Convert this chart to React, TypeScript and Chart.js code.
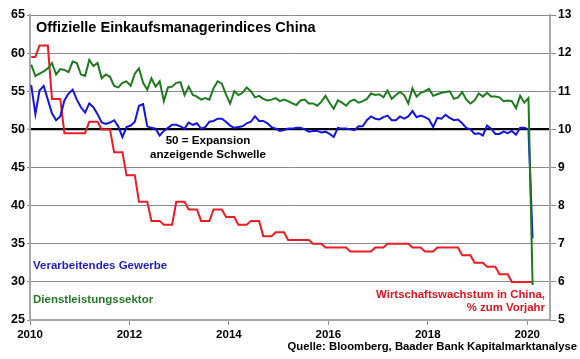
import React, { useEffect, useRef } from "react";
import { Chart, registerables } from "chart.js";

Chart.register(...registerables);

// Monthly data, Jan 2010 .. Feb 2020 (index 0 = Jan 2010)
const START_YEAR = 2010;
const xTickYears = [2010, 2012, 2014, 2016, 2018, 2020];

// Official manufacturing PMI (left axis)
const manufacturing = [
  55.8, 52.0, 55.1, 55.7, 53.9, 52.1, 51.2, 51.7, 53.8, 54.7, 55.2, 53.9,
  52.9, 52.2, 53.4, 52.9, 52.0, 50.9, 50.7, 50.9, 51.2, 50.4, 49.0, 50.3,
  50.5, 51.0, 53.1, 53.3, 50.4, 50.2, 50.1, 49.2, 49.8, 50.2, 50.6, 50.6,
  50.4, 50.1, 50.9, 50.6, 50.8, 50.1, 50.3, 51.0, 51.1, 51.4, 51.4, 51.0,
  50.5, 50.2, 50.3, 50.4, 50.8, 51.0, 51.7, 51.1, 51.1, 50.8, 50.3, 50.1,
  49.8, 49.9, 50.1, 50.1, 50.2, 50.2, 50.0, 49.7, 49.8, 49.8, 49.6, 49.7,
  49.4, 49.0, 50.2, 50.1, 50.1, 50.0, 49.9, 50.4, 50.4, 51.2, 51.7, 51.4,
  51.3, 51.6, 51.8, 51.2, 51.2, 51.7, 51.4, 51.7, 52.4, 51.6, 51.8, 51.6,
  51.3, 50.3, 51.5, 51.4, 51.9, 51.5, 51.2, 51.3, 50.8, 50.2, 50.0, 49.4,
  49.5, 49.2, 50.5, 50.1, 49.4, 49.4, 49.7, 49.5, 49.8, 49.3, 50.2, 50.2,
  50.0, 35.7,
];

// Official non-manufacturing (services) PMI (left axis)
const services = [
  58.5, 57.0, 57.3, 57.6, 58.0, 58.7, 57.2, 57.9, 57.8, 57.5, 58.9, 58.7,
  57.2, 57.0, 59.1, 58.3, 58.7, 56.7, 57.2, 56.9, 55.7, 55.5, 56.1, 56.3,
  55.7, 57.3, 58.0, 56.1, 55.2, 56.7, 55.6, 56.3, 53.7, 55.5, 55.6, 56.1,
  56.2, 54.5, 55.6, 54.5, 54.3, 53.9, 54.1, 53.9, 55.4, 56.3, 56.0, 54.6,
  53.4, 55.0, 54.5, 54.8, 55.5, 55.0, 54.2, 54.4, 54.0, 53.8, 53.9, 54.1,
  53.7, 53.9, 53.7, 53.4, 53.2, 53.8, 53.9, 53.4, 53.4, 53.1, 53.6, 54.4,
  53.5, 52.7, 53.8, 53.5, 53.1, 53.7, 53.9, 53.5, 53.7, 54.0, 54.7, 54.5,
  54.6, 54.2, 55.1, 54.0, 54.5, 54.9, 54.5, 53.4, 55.4, 54.3, 54.8, 55.0,
  55.3, 54.4, 54.6, 54.8, 54.9, 55.0, 54.0, 54.2, 54.9, 53.9, 53.4, 53.8,
  54.7, 54.3, 54.8, 54.3, 54.3, 54.2, 53.7, 53.8, 53.7, 52.8, 54.4, 53.5,
  54.1, 29.6,
];

// Real GDP growth, % y/y (right axis), quarterly values held per month
const gdpGrowth = [
  11.9, 11.9, 12.2, 12.2, 12.2, 10.8, 10.8, 10.8, 9.9, 9.9, 9.9, 9.9,
  9.9, 9.9, 10.2, 10.2, 10.2, 10.0, 10.0, 10.0, 9.4, 9.4, 9.4, 8.8,
  8.8, 8.8, 8.1, 8.1, 8.1, 7.6, 7.6, 7.6, 7.5, 7.5, 7.5, 8.1,
  8.1, 8.1, 7.9, 7.9, 7.9, 7.6, 7.6, 7.6, 7.9, 7.9, 7.9, 7.7,
  7.7, 7.7, 7.5, 7.5, 7.5, 7.6, 7.6, 7.6, 7.2, 7.2, 7.2, 7.3,
  7.3, 7.3, 7.1, 7.1, 7.1, 7.1, 7.1, 7.1, 7.0, 7.0, 7.0, 6.9,
  6.9, 6.9, 6.9, 6.9, 6.9, 6.8, 6.8, 6.8, 6.8, 6.8, 6.8, 6.9,
  6.9, 6.9, 7.0, 7.0, 7.0, 7.0, 7.0, 7.0, 6.9, 6.9, 6.9, 6.8,
  6.8, 6.8, 6.9, 6.9, 6.9, 6.9, 6.9, 6.9, 6.7, 6.7, 6.7, 6.5,
  6.5, 6.5, 6.4, 6.4, 6.4, 6.2, 6.2, 6.2, 6.0, 6.0, 6.0, 6.0,
  6.0, 6.0,
];

const FONT = '"Liberation Sans", Arial, Helvetica, sans-serif';

const toPoints = (arr: number[]) => arr.map((v, i) => ({ x: i + 0.3, y: v }));

type Label = {
  text: string;
  x: number;
  y: number;
  align: "left" | "right" | "center";
  color: string;
  size: number;
};

const labels: Label[] = [
  { text: "Offizielle Einkaufsmanagerindices China", x: 36, y: 27, align: "left", color: "#000", size: 14.5 },
  { text: "50 = Expansion", x: 208, y: 140, align: "center", color: "#000", size: 11.6 },
  { text: "anzeigende Schwelle", x: 208, y: 153.5, align: "center", color: "#000", size: 11.6 },
  { text: "Verarbeitendes Gewerbe", x: 33, y: 266, align: "left", color: "#1c1cc8", size: 11.5 },
  { text: "Dienstleistungssektor", x: 33, y: 300, align: "left", color: "#247a24", size: 11.5 },
  { text: "Wirtschaftswachstum in China,", x: 545, y: 295, align: "right", color: "#e3141c", size: 11.4 },
  { text: "% zum Vorjahr", x: 545, y: 307.5, align: "right", color: "#e3141c", size: 11.4 },
  { text: "Quelle: Bloomberg, Baader Bank Kapitalmarktanalyse", x: 577, y: 347, align: "right", color: "#000", size: 11.3 },
];

export default function App() {
  const canvasRef = useRef<HTMLCanvasElement | null>(null);

  useEffect(() => {
    const canvas = canvasRef.current;
    if (!canvas) return;
    const chart = new Chart(canvas, {
      type: "line",
      data: {
        datasets: [
          {
            label: "Dienstleistungssektor",
            data: toPoints(services),
            borderColor: "#1e7b1e",
            borderWidth: 2,
            pointRadius: 0,
            yAxisID: "y",
            order: 1,
          },
          {
            label: "Verarbeitendes Gewerbe",
            data: toPoints(manufacturing),
            borderColor: "#1515e0",
            borderWidth: 2,
            pointRadius: 0,
            yAxisID: "y",
            order: 2,
          },
          {
            label: "Wirtschaftswachstum",
            data: toPoints(gdpGrowth),
            borderColor: "#ec1c24",
            borderWidth: 2,
            pointRadius: 0,
            yAxisID: "y2",
            order: 3,
          },
        ],
      },
      options: {
        animation: false,
        responsive: false,
        devicePixelRatio: 1,
        layout: { padding: { top: 15, left: 0, right: 0, bottom: 0 } },
        plugins: {
          legend: { display: false },
          tooltip: { enabled: false },
        },
        elements: { line: { tension: 0 } },
        scales: {
          x: {
            type: "linear",
            min: 0,
            max: 125.5,
            afterBuildTicks: (s: any) => {
              s.ticks = xTickYears.map((y) => ({ value: (y - START_YEAR) * 12 }));
            },
            afterFit: (s: any) => {
              s.height = 39;
            },
            grid: { drawOnChartArea: false, tickLength: 5, color: "#8a8a8a" },
            border: { color: "#a8a8a8", width: 2 },
            ticks: {
              autoSkip: false,
              maxRotation: 0,
              padding: 3,
              color: "#000",
              font: { family: FONT, size: 11.5, weight: "bold" },
              callback: (v: any) => String(START_YEAR + Math.round(Number(v) / 12)),
            },
          },
          y: {
            position: "left",
            min: 25,
            max: 65,
            afterFit: (s: any) => {
              s.width = 30;
            },
            grid: {
              color: (c: any) => (c.tick && c.tick.value === 50 ? "#000" : "#8a8a8a"),
              lineWidth: (c: any) => (c.tick && c.tick.value === 50 ? 2.2 : 1),
              tickColor: "#8a8a8a",
              tickWidth: 1,
              tickLength: 3,
            },
            border: { color: "#a8a8a8", width: 2 },
            ticks: {
              stepSize: 5,
              padding: 2,
              color: "#000",
              font: { family: FONT, size: 12.5, weight: "bold" },
            },
          },
          y2: {
            position: "right",
            min: 5,
            max: 13,
            afterFit: (s: any) => {
              s.width = 30;
            },
            grid: { drawOnChartArea: false, tickLength: 6, color: "#8a8a8a" },
            border: { color: "#a8a8a8", width: 2 },
            ticks: {
              stepSize: 1,
              padding: 2,
              color: "#000",
              font: { family: FONT, size: 12, weight: "bold" },
            },
          },
        },
      },
    } as any);
    return () => chart.destroy();
  }, []);

  return (
    <div style={{ position: "absolute", left: 0, top: 0, width: 580, height: 359, background: "#fff" }}>
      <canvas ref={canvasRef} width={580} height={359} style={{ display: "block" }} />
      {labels.map((l, i) => {
        const style: React.CSSProperties = {
          position: "absolute",
          top: l.y,
          fontFamily: FONT,
          fontWeight: "bold",
          fontSize: l.size,
          lineHeight: 1,
          color: l.color,
          whiteSpace: "nowrap",
          transform:
            l.align === "center" ? "translate(-50%, -50%)" : "translateY(-50%)",
        };
        if (l.align === "right") style.right = 580 - l.x;
        else style.left = l.x;
        return (
          <div key={i} style={style}>
            {l.text}
          </div>
        );
      })}
    </div>
  );
}
